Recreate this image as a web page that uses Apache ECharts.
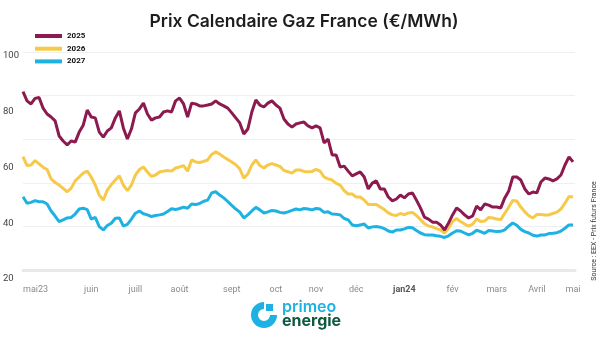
<!DOCTYPE html>
<html>
<head>
<meta charset="utf-8">
<script src="https://cdn.jsdelivr.net/npm/echarts@6/dist/echarts.min.js"></script>
<style>html,body{margin:0;padding:0;background:#fff}#c{width:600px;height:338px}</style>
</head>
<body>
<div id="c"></div>
<script>
const seriesNames = ['2025', '2026', '2027'];
const seriesColors = ['#8c1a4f', '#f7c948', '#1eb2e3'];

const y2025 = [87.2,83.9,82.8,84.8,85.1,81.3,79.2,78.1,76.7,71.3,69.5,68.1,69.5,69.1,72.7,75.2,80.6,78.1,77.8,72.7,
70.9,73.1,74.2,77.8,80.3,74.2,70.2,73.8,79.6,81.0,83.1,79.2,77.0,77.8,78.1,79.9,80.3,79.9,83.9,84.9,
82.8,78.1,83.1,82.8,82.1,82.1,82.4,82.8,83.9,82.8,82.1,81.3,79.6,77.8,76.0,72.0,73.8,79.9,84.2,82.4,
81.7,83.1,83.9,82.4,81.3,77.4,75.6,74.5,75.6,76.0,76.3,74.9,74.2,74.9,74.2,68.8,70.2,64.5,64.5,60.2,
60.5,58.7,57.0,57.7,58.4,56.6,52.3,54.4,55.2,52.3,52.3,49.4,48.0,48.7,50.1,49.1,50.5,50.9,48.3,45.5,
42.2,41.5,40.4,40.4,39.4,37.6,40.1,43.0,45.5,44.4,43.0,41.9,42.6,46.2,44.8,46.9,46.5,45.8,45.8,45.5,
49.1,51.6,56.6,56.6,55.5,52.3,50.5,51.2,50.9,54.8,56.2,55.9,55.2,55.9,57.3,60.9,63.8,62.0];

const y2026 = [63.9,60.7,60.9,62.5,61.3,60.1,59.3,55.9,54.6,53.7,52.5,51.3,52.6,55.2,56.6,58.0,58.7,56.6,53.7,50.1,
48.3,51.9,53.9,55.5,57.0,53.7,51.7,53.7,57.3,59.3,60.2,58.4,56.8,57.3,58.4,58.7,58.9,58.7,59.8,60.2,
60.7,58.7,62.7,62.0,61.8,62.2,62.7,64.7,65.6,64.8,63.8,62.9,62.0,61.0,59.5,56.2,57.7,60.9,62.7,60.7,
59.8,60.9,61.4,60.9,60.4,58.9,58.5,58.0,59.1,59.1,58.6,58.5,58.6,59.3,58.7,56.6,55.9,55.5,54.3,53.7,
51.7,50.5,50.5,49.4,49.4,48.3,46.7,46.7,46.7,45.8,44.9,43.7,43.0,42.8,43.5,43.1,43.7,43.9,42.8,41.3,
39.8,39.0,38.7,38.1,37.6,36.5,38.3,40.6,41.7,40.6,39.7,39.0,39.7,41.5,40.6,40.8,42.1,41.9,41.5,41.3,
43.6,45.8,48.2,48.0,45.8,44.1,42.7,41.9,43.1,43.1,43.0,43.0,43.5,44.0,45.1,47.2,49.6,49.4];

const y2027 = [49.5,47.2,47.5,48.1,47.7,47.7,46.9,44.4,42.6,40.6,41.2,41.9,42.1,43.3,45.1,45.4,44.9,41.5,42.1,38.8,
37.6,39.2,40.0,41.8,41.9,39.0,39.6,41.5,43.6,44.4,43.4,43.0,42.4,42.8,43.0,43.3,44.2,45.2,44.9,45.3,
45.8,45.4,46.9,46.7,47.1,47.9,48.3,50.9,51.3,50.1,49.1,47.8,46.4,45.1,44.0,41.9,43.0,44.4,45.7,44.8,
43.7,44.1,44.6,44.4,43.9,43.7,44.1,44.6,45.1,44.8,45.3,45.1,44.8,45.3,45.1,43.9,44.1,43.3,43.2,43.0,
41.7,41.2,39.4,39.1,39.4,39.7,38.3,38.7,38.8,38.6,38.1,37.2,36.8,37.6,37.6,38.0,38.5,38.4,37.4,36.5,
35.9,35.8,35.8,35.5,35.3,34.9,35.5,36.5,37.3,37.2,36.5,35.8,36.4,37.5,37.0,36.4,37.4,37.2,37.0,37.1,
37.6,39.0,40.1,39.3,37.8,37.0,36.5,35.7,35.4,35.8,35.8,36.3,36.4,36.6,37.2,38.2,39.4,39.4];

const xTickLabels = ['mai23','juin','juill','août','sept','oct','nov','déc','jan24','fév','mars','Avril','mai'];
const xTickIdx = [0,17,28,39,52,63,73,83,95,107,118,128,137];
const yTicks = [20,40,60,80,100];

const categories = y2025.map((_, i) => String(i));
const tickMap = {};
xTickIdx.forEach((idx, j) => { tickMap[idx] = xTickLabels[j]; });

const chart = echarts.init(document.getElementById('c'), null, {renderer: 'canvas'});
const FONT = 'Roboto, "Noto Sans", sans-serif';

const option = {
  animation: false,
  textStyle: {fontFamily: FONT},
  grid: [
    {left: 23, right: 27, top: 56, bottom: 59},
    {left: 23, right: 25, top: 52, bottom: 68}
  ],
  legend: {
    data: seriesNames,
    orient: 'vertical',
    left: 30, top: 26,
    icon: 'rect',
    itemWidth: 27, itemHeight: 4,
    itemGap: 2.7,
    textStyle: {fontSize: 8, fontWeight: 'bold', color: '#111', lineHeight: 10, fontFamily: FONT}
  },
  xAxis: [
    {
      type: 'category', gridIndex: 0, data: categories, boundaryGap: false,
      axisLine: {show: false}, axisTick: {show: false}, splitLine: {show: false},
      axisLabel: {
        margin: 6, fontSize: 9, color: '#8a8a8a',
        interval: (i) => tickMap[i] !== undefined,
        formatter: (v, i) => {
          const t = tickMap[i];
          if (t === undefined) return '';
          return t === 'jan24' ? '{b|' + t + '}' : t;
        },
        rich: {b: {fontWeight: 'bold', color: '#555', fontSize: 9}},
        alignMinLabel: 'left'
      }
    },
    {
      type: 'value', gridIndex: 1, min: 0, max: 1,
      axisLabel: {show: false}, axisTick: {show: false}, splitLine: {show: false},
      axisLine: {show: true, lineStyle: {color: '#e9e9e9', width: 3}}
    }
  ],
  yAxis: [
    {
      type: 'value', gridIndex: 0, min: 20, max: 100, interval: 20,
      axisLine: {show: false}, axisTick: {show: false}, splitLine: {show: false},
      axisLabel: {align: 'left', margin: 20, fontSize: 9.5, color: '#444'}
    },
    {
      type: 'value', gridIndex: 1, min: 0, max: 5, interval: 1,
      axisLine: {show: false}, axisTick: {show: false}, axisLabel: {show: false},
      splitLine: {show: true, lineStyle: {color: '#efefef', width: 1}}
    }
  ],
  series: [y2025, y2026, y2027].map((d, i) => ({
    name: seriesNames[i], type: 'line', xAxisIndex: 0, yAxisIndex: 0,
    data: d, showSymbol: false, symbol: 'none',
    lineStyle: {color: seriesColors[i], width: 3},
    itemStyle: {color: seriesColors[i]},
    z: 5 - i
  })),
  graphic: [
    {type: 'text', x: 304, y: 22, style: {text: 'Prix Calendaire Gaz France (€/MWh)', font: '600 17.5px Inter, sans-serif', fill: '#1d1d1d', textAlign: 'center', textVerticalAlign: 'middle'}},
    {type: 'text', x: 594, y: 231, rotation: Math.PI / 2,
     style: {text: 'Source : EEX - Prix futurs France', font: '7px ' + FONT, fill: '#333', textAlign: 'center', textVerticalAlign: 'middle'}},
    {type: 'sector', shape: {cx: 264, cy: 315, r: 13, r0: 6, startAngle: -Math.PI / 2, endAngle: 0, clockwise: false}, style: {fill: '#1eb2e3'}},
    {type: 'rect', shape: {x: 266, y: 304, width: 7, height: 7}, style: {fill: '#1eb2e3'}},
    {type: 'text', x: 282, y: 307, style: {text: 'primeo', font: '600 16px Inter, sans-serif', fill: '#1eb2e3', textVerticalAlign: 'middle'}},
    {type: 'text', x: 282, y: 321, style: {text: 'energie', font: 'bold 16px Inter, sans-serif', fill: '#0d5a3e', textVerticalAlign: 'middle'}}
  ]
};
chart.setOption(option);
</script>
</body>
</html>
